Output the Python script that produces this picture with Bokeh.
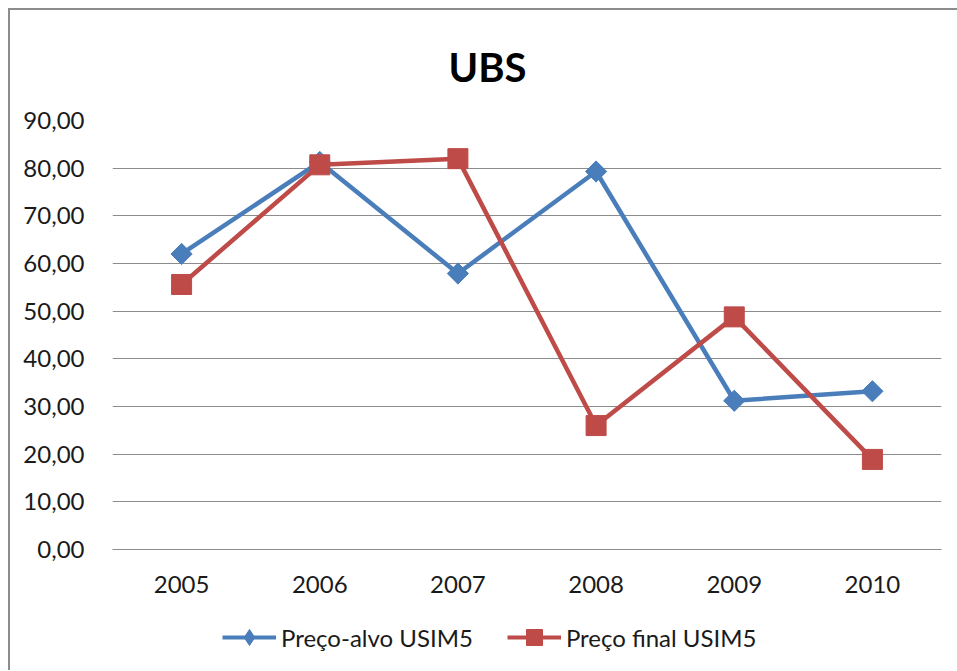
import math
from bokeh.plotting import figure
from bokeh.models import Range1d, FactorRange, CustomJSTickFormatter, Legend, LegendItem, Column
from bokeh.embed import file_html
from bokeh.resources import INLINE

years = ["2005", "2006", "2007", "2008", "2009", "2010"]
preco_alvo = [62.0, 81.3, 57.9, 79.3, 31.2, 33.2]
preco_final = [55.6, 80.7, 82.0, 26.0, 48.8, 18.9]
y_ticks = [0, 10, 20, 30, 40, 50, 60, 70, 80, 90]
series_names = ["Preço-alvo USIM5", "Preço final USIM5"]

FONT = "Lato"
BLUE = "#4a7ebb"
RED = "#be4b48"
GRID = "#8c8c8c"
TXT = "#1a1a1a"

p = figure(width=947, height=590, x_range=years, y_range=Range1d(0, 90),
           output_backend="svg", toolbar_location=None,
           min_border_left=102, min_border_right=16, min_border_top=110, min_border_bottom=51)
p.x_range.range_padding = 0
p.outline_line_color = None

p.title.text = "UBS"
p.title.align = "left"
p.title.offset = 336
p.title.text_font = FONT
p.title.text_font_style = "bold"
p.title.text_font_size = "40px"
p.title.text_color = "#000000"
p.title.standoff = 59

p.yaxis.ticker = y_ticks
p.yaxis.formatter = CustomJSTickFormatter(code="return tick.toFixed(2).replace('.', ',');")
p.yaxis.axis_line_color = None
p.yaxis.major_tick_line_color = None
p.yaxis.minor_tick_line_color = None
p.yaxis.major_label_standoff = 22
p.yaxis.major_label_text_font = FONT
p.yaxis.major_label_text_font_size = "24px"
p.yaxis.major_label_text_color = TXT

p.xaxis.axis_line_color = GRID
p.xaxis.axis_line_width = 1
p.xaxis.major_tick_line_color = None
p.xaxis.minor_tick_line_color = None
p.xaxis.major_label_standoff = 20
p.xaxis.major_label_text_font = FONT
p.xaxis.major_label_text_font_size = "24px"
p.xaxis.major_label_text_color = TXT

p.xgrid.grid_line_color = None
p.ygrid.grid_line_color = GRID
p.ygrid.grid_line_width = 1

p.line(years, preco_alvo, line_color=BLUE, line_width=4.5)
p.scatter(years, preco_alvo, marker="square", size=15, angle=math.pi / 4,
          fill_color=BLUE, line_color=BLUE)
p.line(years, preco_final, line_color=RED, line_width=4.5)
p.scatter(years, preco_final, marker="square", size=20, fill_color=RED, line_color=RED)

# legend strip: same series drawn out of view, used only for the legend keys
lg = figure(width=947, height=70, x_range=FactorRange(*years), y_range=Range1d(1000, 1001),
            output_backend="svg", toolbar_location=None,
            min_border_left=0, min_border_right=0, min_border_top=0, min_border_bottom=0)
lg.axis.visible = False
lg.grid.grid_line_color = None
lg.outline_line_color = None
a1 = lg.line(years, preco_alvo, line_color=BLUE, line_width=4)
b1 = lg.scatter(years, preco_alvo, marker="diamond", size=10, fill_color=BLUE, line_color=BLUE)
a2 = lg.line(years, preco_final, line_color=RED, line_width=4)
b2 = lg.scatter(years, preco_final, marker="square", size=10, fill_color=RED, line_color=RED)
legend = Legend(items=[LegendItem(label=series_names[0], renderers=[a1, b1]),
                       LegendItem(label=series_names[1], renderers=[a2, b2])],
                orientation="horizontal", location=(110, 13),
                label_text_font=FONT, label_text_font_size="24px", label_text_color=TXT,
                glyph_width=54, glyph_height=40, spacing=34, label_standoff=5,
                border_line_color=None, background_fill_alpha=0, padding=0, margin=0)
lg.add_layout(legend)

layout = Column(children=[p, lg], spacing=0, margin=(8, 0, 0, 8),
                styles={"border-left": "2px solid #8c8c8c", "border-top": "2px solid #8c8c8c"})

open("out.html", "w").write(file_html(layout, INLINE))
